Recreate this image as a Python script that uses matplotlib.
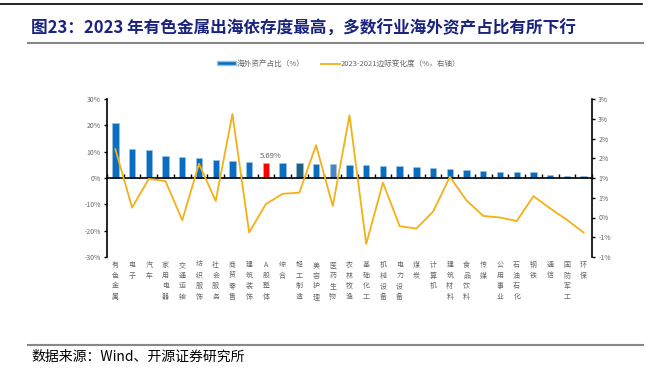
import numpy as np
import matplotlib
matplotlib.use("Agg")
import matplotlib.pyplot as plt
from matplotlib.lines import Line2D
from matplotlib.patches import Patch
from matplotlib.ticker import FuncFormatter

plt.rcParams['font.family'] = ['Noto Sans CJK SC', 'DejaVu Sans']

# 数据
industries = ['有色金属', '电子', '汽车', '家用电器', '交通运输', '纺织服饰', '社会服务',
              '商贸零售', '建筑装饰', 'A股整体', '综合', '轻工制造', '美容护理', '医药生物',
              '农林牧渔', '基础化工', '机械设备', '电力设备', '煤炭', '计算机', '建筑材料',
              '食品饮料', '传媒', '公用事业', '石油石化', '钢铁', '通信', '国防军工', '环保']
overseas_share = [21.0, 11.1, 10.6, 8.5, 7.8, 7.6, 6.8, 6.3, 5.9, 5.69, 5.6, 5.7, 5.4, 5.2,
                  4.8, 4.8, 4.7, 4.6, 4.2, 3.8, 3.5, 3.2, 2.7, 2.4, 2.4, 2.4, 1.3, 0.9, 0.9]
change_2023_2021 = [1.73, 0.25, 0.98, 0.92, -0.07, 1.36, 0.42, 2.62, -0.38, 0.34, 0.60, 0.63,
                    1.83, 0.29, 2.59, -0.67, 0.88, -0.22, -0.28, 0.15, 1.03, 0.43, 0.04, 0.00,
                    -0.09, 0.54, 0.23, -0.06, -0.38]

blue = '#0A6EC0'
bar_colors = [blue] * len(industries)
bar_colors[industries.index('A股整体')] = '#FF0000'
bar_colors[industries.index('轻工制造')] = '#1F5F7F'
bar_colors[industries.index('医药生物')] = '#4A86C5'
line_color = '#F5B016'
grey = '#666666'

fig = plt.figure(figsize=(6.64, 3.68), dpi=100)
ax = fig.add_axes([107 / 664, 1 - 257 / 368, (592 - 107) / 664, (257 - 99) / 368])
ax2 = ax.twinx()

x = np.arange(len(industries))
ax.bar(x, overseas_share, width=0.38, color=bar_colors, edgecolor='#9CC3E6',
       linewidth=0.4, zorder=2)
ax2.plot(x, change_2023_2021, color=line_color, lw=1.3, zorder=3)

ax.set_xlim(-0.5, len(industries) - 0.5)
ax.set_ylim(-30, 30)
ax.set_yticks(np.arange(-30, 31, 10))
ax.yaxis.set_major_formatter(FuncFormatter(lambda v, p: f"{int(round(v))}%"))
ax2.set_ylim(-1, 3)
ax2.set_yticks(np.arange(-1, 3.01, 0.5))


def excel_pct(v, p):
    # Excel 式四舍五入（远离零）
    r = int(np.sign(v) * np.floor(abs(v) + 0.5 + 1e-9))
    return f"{r}%"


ax2.yaxis.set_major_formatter(FuncFormatter(excel_pct))

for a in (ax, ax2):
    a.tick_params(axis='y', labelsize=5, colors='black', labelcolor=grey,
                  length=2.5, width=1, pad=2)
    a.spines['top'].set_visible(False)
ax2.spines['bottom'].set_visible(False)
ax2.spines['left'].set_visible(False)
ax.spines['right'].set_visible(False)
ax.spines['left'].set_linewidth(1.2)
ax2.spines['right'].set_linewidth(1.2)
ax.spines['bottom'].set_position(('data', 0))
ax.spines['bottom'].set_linewidth(1.2)
ax.spines['bottom'].set_zorder(4)
ax.set_xticks(np.arange(-0.5, len(industries), 1.0))
ax.tick_params(axis='x', direction='in', length=3, width=1, labelbottom=False)

# 行业标签（竖排）
for i, name in enumerate(industries):
    ax.text(i, -31.5, '\n'.join(name), ha='center', va='top', fontsize=5,
            color=grey, linespacing=1.45)

# A股整体 标注
ia = industries.index('A股整体')
ax.text(ia + 0.3, overseas_share[ia] + 1.3, '5.69%', ha='center', va='bottom',
        fontsize=5.5, color=grey)

# 图例
handles = [Patch(facecolor=blue, edgecolor='#9CC3E6', label='海外资产占比（%）'),
           Line2D([0], [0], color=line_color, lw=1.3, label='2023-2021边际变化度（%，右轴）')]
fig.legend(handles=handles, loc='center', bbox_to_anchor=(0.51, 1 - 64 / 368), ncol=2,
           frameon=False, fontsize=5.5, handlelength=2.4, handleheight=0.45,
           columnspacing=2.2, handletextpad=0.1, labelcolor=grey)

# 标题与装饰线
fig.add_artist(Line2D([0, 642 / 664], [1 - 4 / 368] * 2, color='black', lw=1.2))
fig.text(31 / 664, 1 - 29 / 368, '图23：2023 年有色金属出海依存度最高，多数行业海外资产占比有所下行',
         fontsize=12, fontweight='bold', color='#1A237E', ha='left', va='center')
fig.add_artist(Line2D([28 / 664, 643 / 664], [1 - 43 / 368] * 2, color='#888888', lw=1.5))
fig.add_artist(Line2D([28 / 664, 643 / 664], [1 - 345 / 368] * 2, color='#888888', lw=1.5))
fig.text(31 / 664, 1 - 357 / 368, '数据来源：Wind、开源证券研究所', fontsize=10,
         color='black', ha='left', va='center')

fig.savefig('out.png', dpi=100)
